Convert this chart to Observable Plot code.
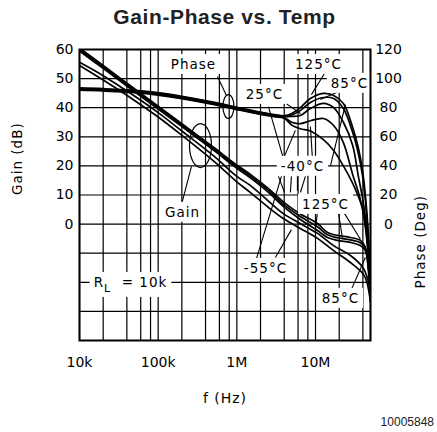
<!DOCTYPE html>
<html><head><meta charset="utf-8">
<script src="https://cdn.jsdelivr.net/npm/d3@7"></script>
<script src="https://cdn.jsdelivr.net/npm/@observablehq/plot@0.6"></script>
<style>
body{margin:0;background:#fff;width:437px;height:432px;overflow:hidden;}
#title{font:bold 21px "Liberation Sans",Arial,sans-serif;color:#222;text-align:center;height:34px;line-height:34px;letter-spacing:0.6px;padding-left:12px;box-sizing:border-box;}
#caption{font:12px "Liberation Sans",Arial,sans-serif;color:#222;text-align:right;padding-right:3px;height:20px;line-height:20px;}
</style></head><body>
<div id="title">Gain-Phase vs. Temp</div>
<div id="chart"></div>
<div id="caption">10005848</div>
<script>
// ---- data ----
const temps = ["125°C", "85°C", "25°C", "-40°C", "-55°C"];

const gainFreqHot = [1e4, 2e4, 5e4, 1e5, 2e5, 5e5, 1e6, 1.5e6, 2.5e6, 4e6, 6.4e6, 1.06e7, 1.42e7, 1.91e7, 2.78e7, 3.72e7, 4.3e7, 4.7e7, 5e7];
const gain125 = [60.5, 54.5, 46.5, 40.5, 34.5, 26.5, 20.3, 17, 12.3, 7.4, 3.5, 0.2, -2.9, -3.9, -4.6, -5.6, -8, -14, -22];
const gain85  = [60, 54, 46, 40, 34, 26, 19.8, 16.4, 11.7, 6.6, 2.6, -0.9, -3.7, -4.7, -5.4, -6.4, -8.5, -15, -24];
const gain25  = [59.5, 53.5, 45.5, 39.5, 33.5, 25.5, 19.2, 15.8, 11, 5.8, 1.6, -2.2, -4.6, -5.6, -6.3, -7.4, -9.1, -16, -26];

const gainFreqCold = [1e4, 2e4, 5e4, 1e5, 2e5, 5e5, 1e6, 1.48e6, 2.5e6, 3.9e6, 6.4e6, 1.06e7, 1.7e7, 2.78e7, 4e7, 4.5e7, 5e7];
const gainM40 = [55.6, 51, 44, 38.3, 32, 23.6, 16.4, 13.3, 8, 3.6, 0.2, -3.2, -7.4, -10.8, -14.9, -18, -23];
const gainM55 = [54.5, 49.5, 42.5, 36.8, 30.5, 21.8, 14.5, 10.9, 5.8, 1.9, -1.5, -4.9, -9.1, -13.2, -17, -20, -27];

const phaseFreq = [1e4, 2e4, 5e4, 1e5, 2e5, 5e5, 1e6, 2e6, 3e6, 4e6, 5e6, 6.4e6, 8.6e6, 1.26e7, 1.7e7, 2.26e7, 2.97e7, 3.5e7, 3.96e7, 4.3e7, 4.55e7, 4.85e7, 5e7];
const phase125 = [93.6, 93.1, 92, 90.3, 87.8, 83.8, 80.3, 77, 75.3, 74.5, 76, 80, 86.3, 89.8, 88.4, 82.9, 66.4, 52.6, 36.8, 19.7, 4, -20, -35];
const phase85  = [93.2, 92.7, 91.6, 89.9, 87.4, 83.4, 79.9, 76.6, 75, 74.2, 75, 78, 83.6, 87, 86.3, 79.4, 63, 48.5, 33.4, 17, 0, -25, -40];
const phase25  = [92.8, 92.3, 91.2, 89.5, 87, 83, 79.5, 76.2, 74.6, 73.8, 74, 74.6, 79.4, 83, 80, 70, 54, 33, 18, 5, -8, -28, -45];
const phaseM40 = [92.4, 91.9, 90.8, 89.1, 86.6, 82.6, 79.1, 75.8, 74.2, 73.2, 70, 69, 71, 72.6, 67.8, 56, 34, 22, 10, -2, -14, -32, -50];
const phaseM55 = [92, 91.5, 90.4, 88.7, 86.2, 82.2, 78.7, 75.4, 73.8, 72.8, 68, 65.5, 64, 58, 50.6, 40, 28, 19, 11, 0, -12, -33, -52];

const freqTicks = [1e4, 1e5, 1e6, 1e7, 5e7];
const freqTickLabels = ["10k", "100k", "1M", "10M", "50M"];
const gainTicks = [0, 10, 20, 30, 40, 50, 60];
const phaseTicks = [0, 20, 40, 60, 80, 100, 120];
const gridFreqs = [1e4, 2e4, 4e4, 6e4, 8e4, 1e5, 2e5, 4e5, 6e5, 8e5, 1e6, 2e6, 4e6, 6e6, 8e6, 1e7, 2e7, 4e7, 5e7];
const gridGain = [-40, -30, -20, -10, 0, 10, 20, 30, 40, 50, 60];

const labelTexts = ["Phase", "125°C", "85°C", "25°C", "-40°C", "Gain", "125°C", "-55°C", "85°C", "R_L = 10k"];
const labelFreqs = [2.81e5, 1.09e7, 2.7e7, 2.24e6, 6.82e6, 2.04e5, 1.34e7, 2.31e6, 2.07e7, 4.45e4];
const labelGains = [54.8, 54.8, 48.3, 44.5, 19.8, 4.0, 6.7, -15.3, -25.6, -20.1];

// pointer segments (freq, dB) -> (freq, dB)
const ptrF1 = [5.67e5, 2.65e5, 1.3e7, 2.26e7, 3.91e6, 2.52e6, 5.55e6, 8.61e6, 2.4e7, 3.38e6, 4.94e6, 5.89e6, 7.44e6, 1.78e6, 3.09e6, 1.06e7, 1.95e7, 2.26e7, 2.78e7];
const ptrG1 = [50.7, 19.8, 51.75, 46.25, 42.1, 40.4, 32.2, 33.5, 41.1, 16.4, 16.4, 16.4, 16.4, -11.8, -11.5, 4.3, 4.3, 4.3, -23.2];
const ptrF2 = [7.38e5, 1.98e5, 8.87e6, 1.15e7, 6.43e6, 3.91e6, 3.91e6, 9.13e6, 1.55e7, 4.03e6, 4.8e6, 5.89e6, 6.43e6, 3.69e6, 4.94e6, 1.0e7, 2.2e7, 3.72e7, 4.3e7];
const ptrG2 = [44.2, 6.7, 44.5, 42.8, 38.0, 22.5, 22.5, 22.5, 20.1, 10.9, 10.9, 11.5, 10.9, 16.4, -1.9, -1.5, -4.9, -5.2, -11.5];

const ellipseFreqs = [7.82e5, 3.45e5];
const ellipseGains = [40.4, 27];

// ---- build tables ----
const gainRows = [];
[[gainFreqHot, gain125], [gainFreqHot, gain85], [gainFreqHot, gain25], [gainFreqCold, gainM40], [gainFreqCold, gainM55]]
  .forEach(([fs, vs], i) => fs.forEach((f, j) => gainRows.push({series: "gain " + temps[i], f, db: vs[j]})));
const phaseRows = [];
[phase125, phase85, phase25, phaseM40, phaseM55]
  .forEach((vs, i) => phaseFreq.forEach((f, j) => phaseRows.push({series: "phase " + temps[i], f, deg: vs[j]})));
const labels = labelTexts.map((t, i) => ({text: t, f: labelFreqs[i], db: labelGains[i]}));
const pointers = ptrF1.map((f, i) => ({f1: f, g1: ptrG1[i], f2: ptrF2[i], g2: ptrG2[i]}));

function ellipse(rx, ry) {
  const k = 0.5523;
  return {draw(ctx) {
    ctx.moveTo(rx, 0);
    ctx.bezierCurveTo(rx, ry * k, rx * k, ry, 0, ry);
    ctx.bezierCurveTo(-rx * k, ry, -rx, ry * k, -rx, 0);
    ctx.bezierCurveTo(-rx, -ry * k, -rx * k, -ry, 0, -ry);
    ctx.bezierCurveTo(rx * k, -ry, rx, -ry * k, rx, 0);
    ctx.closePath();
  }};
}

const svg = Plot.plot({
  width: 437, height: 378,
  marginLeft: 79, marginRight: 67, marginTop: 15, marginBottom: 72,
  x: {type: "log", domain: [1e4, 5e7]},
  y: {domain: [-40, 60]},
  style: {fontFamily: "DejaVu Sans", fontSize: "14px", color: "black", background: "white", overflow: "visible"},
  marks: [
    Plot.ruleX(gridFreqs, {stroke: "black", strokeWidth: 1.2}),
    Plot.ruleY(gridGain, {stroke: "black", strokeWidth: 1.2}),
    Plot.line(gainRows, {x: "f", y: "db", z: "series", curve: "catmull-rom", stroke: "black", strokeWidth: 1.7, clip: true}),
    Plot.line(phaseRows, {x: "f", y: d => d.deg / 2, z: "series", curve: "catmull-rom", stroke: "black", strokeWidth: 1.7, clip: true}),
    Plot.dot([0], {x: () => ellipseFreqs[0], y: () => ellipseGains[0], symbol: ellipse(5.5, 12), r: 5, stroke: "black", fill: "none", strokeWidth: 1.2}),
    Plot.dot([0], {x: () => ellipseFreqs[1], y: () => ellipseGains[1], symbol: ellipse(11, 22), r: 5, stroke: "black", fill: "none", strokeWidth: 1.2}),
    Plot.link(pointers, {x1: "f1", y1: "g1", x2: "f2", y2: "g2", stroke: "black", strokeWidth: 1.1}),
    Plot.text(labels, {x: "f", y: "db", text: "text", fontSize: 13.5, fill: "black", ariaDescription: "annotations"}),
    Plot.frame({stroke: "black", strokeWidth: 2}),
    Plot.axisX({ticks: freqTicks, tickFormat: d => freqTickLabels[freqTicks.indexOf(d)], tickSize: 0, tickPadding: 17, label: null, fontSize: 14}),
    Plot.axisY({ticks: gainTicks, tickSize: 0, tickPadding: 6, anchor: "left", label: null, fontSize: 14}),
    Plot.axisY({ticks: phaseTicks.map(d => d / 2), tickFormat: d => String(d * 2), tickSize: 0, tickPadding: 18, anchor: "right", textAnchor: "middle", label: null, fontSize: 14}),
    Plot.text(["Gain (dB)"], {frameAnchor: "left", dx: -62, rotate: -90, fontSize: 13.5, ariaDescription: "titles"}),
    Plot.text(["Phase (Deg)"], {frameAnchor: "right", dx: 50, rotate: -90, fontSize: 13.5, ariaDescription: "titles"}),
    Plot.text(["f (Hz)"], {frameAnchor: "bottom", dy: 62, fontSize: 14, ariaDescription: "titles"})
  ]
});
document.getElementById("chart").append(svg);

// letter spacing + white label boxes
svg.querySelectorAll('g[aria-description="titles"] text').forEach(t => t.setAttribute("letter-spacing", "1"));
const lg = svg.querySelector('g[aria-description="annotations"]');
if (lg) {
  const texts = Array.from(lg.querySelectorAll("text"));
  texts.forEach(t => {
    t.setAttribute("letter-spacing", "1");
    if (t.textContent === "R_L = 10k") {
      t.textContent = "";
      const ns = "http://www.w3.org/2000/svg";
      const a = document.createElementNS(ns, "tspan"); a.textContent = "R";
      const b = document.createElementNS(ns, "tspan"); b.textContent = "L"; b.setAttribute("dy", "5"); b.setAttribute("font-size", "11");
      const c = document.createElementNS(ns, "tspan"); c.textContent = "  = 10k"; c.setAttribute("dy", "-5");
      t.append(a, b, c);
      t.setAttribute("xml:space", "preserve");
      t.style.whiteSpace = "pre";
    }
  });
  texts.forEach(t => {
    const bb = t.getBBox();
    const r = document.createElementNS("http://www.w3.org/2000/svg", "rect");
    r.setAttribute("x", bb.x - 4); r.setAttribute("y", bb.y - 2);
    r.setAttribute("width", bb.width + 8); r.setAttribute("height", bb.height + 4);
    r.setAttribute("fill", "white"); r.setAttribute("stroke", "none");
    if (t.getAttribute("transform")) r.setAttribute("transform", t.getAttribute("transform"));
    lg.insertBefore(r, lg.firstChild);
  });
}
</script>
</body></html>
